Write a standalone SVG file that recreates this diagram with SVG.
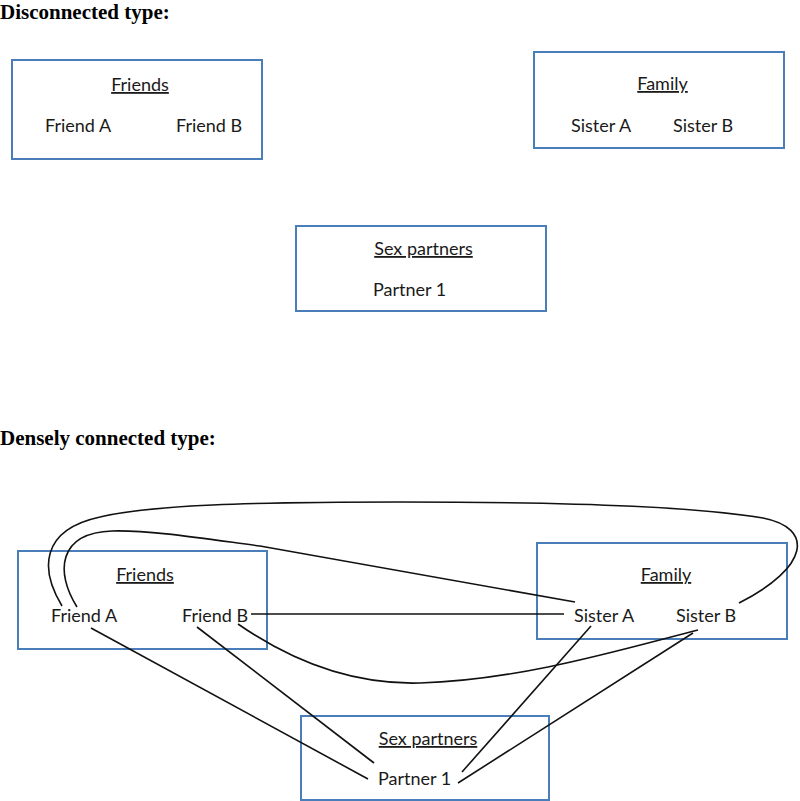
<svg xmlns="http://www.w3.org/2000/svg" width="800" height="801" viewBox="0 0 800 801">
<style>
.title{font-family:"Liberation Serif","Times New Roman",serif;font-weight:bold;font-size:21px;fill:#000}
.box{fill:none;stroke:#4a7ebb;stroke-width:2}
.lbl{font-family:Lato,"Liberation Sans",sans-serif;font-size:18px;fill:#1a1a1a}
.hd{text-decoration:underline}
.edge{fill:none;stroke:#111;stroke-width:1.6}
</style>
<rect width="800" height="801" fill="#fff"/>
<text class="title" x="0" y="19">Disconnected type:</text>
<text class="title" x="0" y="445">Densely connected type:</text>

<g id="friends1">
<rect class="box" x="12" y="60" width="250" height="99"/>
<text class="lbl hd" x="140" y="91" text-anchor="middle">Friends</text>
<text class="lbl" x="45" y="132">Friend A</text>
<text class="lbl" x="176" y="132">Friend B</text>
</g>
<g id="family1">
<rect class="box" x="534" y="52" width="250" height="96"/>
<text class="lbl hd" x="662.5" y="90" text-anchor="middle">Family</text>
<text class="lbl" x="571" y="132">Sister A</text>
<text class="lbl" x="673" y="132">Sister B</text>
</g>
<g id="sex1">
<rect class="box" x="296" y="226" width="250" height="85"/>
<text class="lbl hd" x="423.5" y="255" text-anchor="middle">Sex partners</text>
<text class="lbl" x="373" y="296">Partner 1</text>
</g>

<g id="friends2">
<rect class="box" x="18" y="551" width="249" height="98"/>
<text class="lbl hd" x="145" y="581" text-anchor="middle">Friends</text>
<text class="lbl" x="51" y="622">Friend A</text>
<text class="lbl" x="182" y="622">Friend B</text>
</g>
<g id="family2">
<rect class="box" x="537" y="543" width="250" height="96"/>
<text class="lbl hd" x="666" y="581" text-anchor="middle">Family</text>
<text class="lbl" x="574" y="622">Sister A</text>
<text class="lbl" x="676" y="622">Sister B</text>
</g>
<g id="sex2">
<rect class="box" x="301" y="716" width="248" height="84"/>
<text class="lbl hd" x="428" y="745" text-anchor="middle">Sex partners</text>
<text class="lbl" x="378" y="785">Partner 1</text>
</g>

<g id="connectors">
<path class="edge" d="M62,606 C40,570 40,530 100,517 C150,505 250,502 400,502 C600,502 700,508 763,518 C814,528 810,567 739,603"/>
<path class="edge" d="M77,607 C55,572 58,533 112,531 C150,530 200,538 260,546 L575,602"/>
<path class="edge" d="M251,614 L564,614"/>
<path class="edge" d="M238,624 C290,660 350,685 420,683 C520,680 620,650 698,630"/>
<path class="edge" d="M91,628 L368,779"/>
<path class="edge" d="M197,627 L374,763"/>
<path class="edge" d="M591,626 L462,772"/>
<path class="edge" d="M693,633 L458,783"/>
</g>
</svg>
